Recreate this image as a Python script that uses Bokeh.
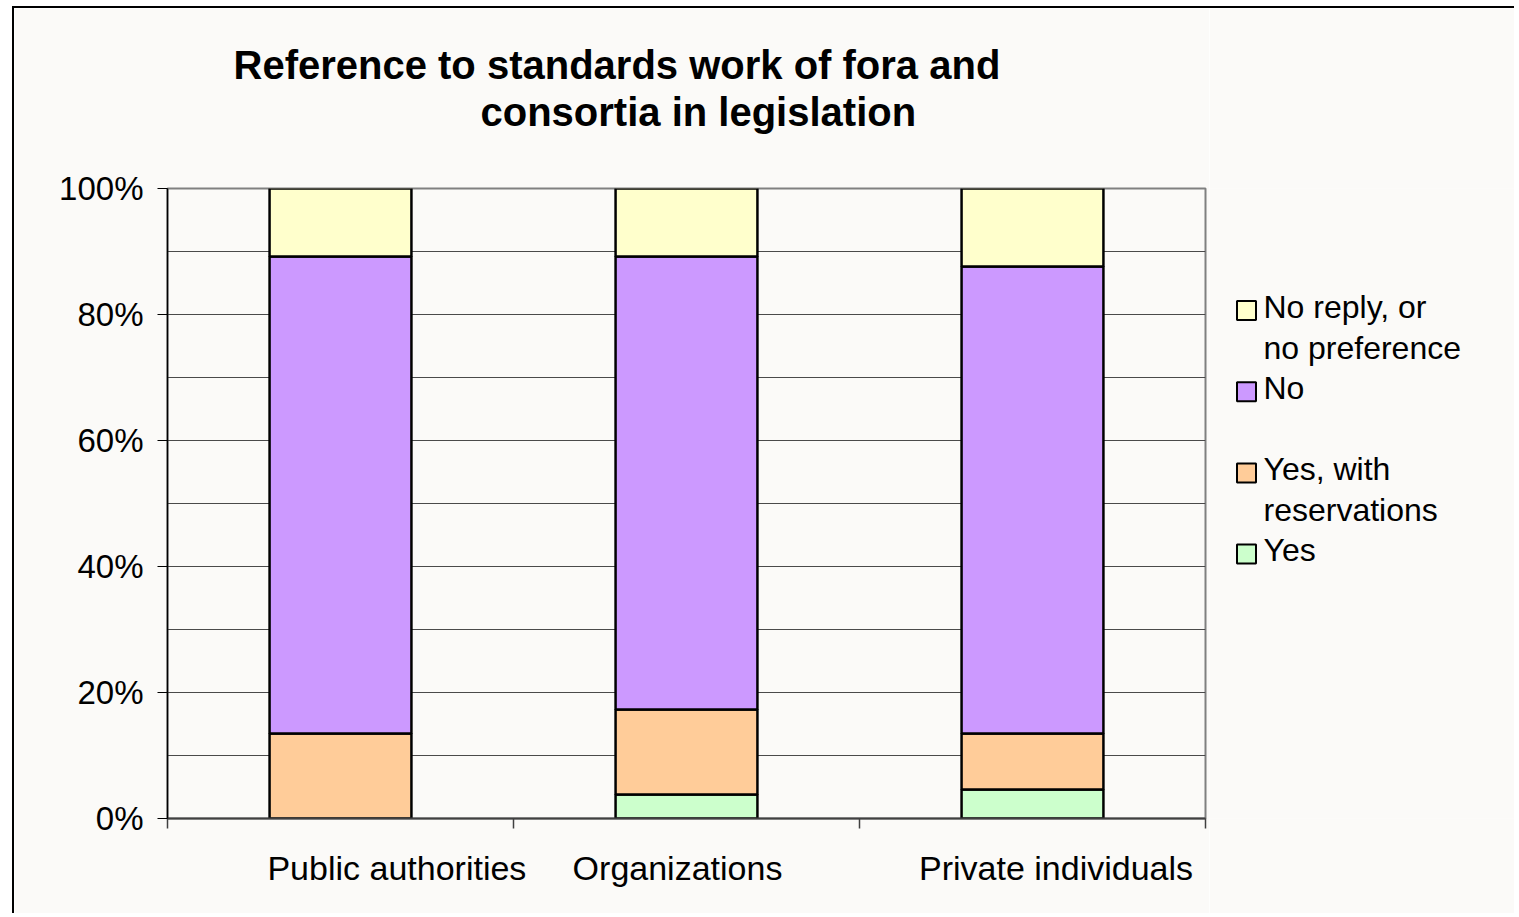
from bokeh.plotting import figure
from bokeh.layouts import row
from bokeh.models import (ColumnDataSource, Range1d, LinearAxis, FixedTicker, PrintfTickFormatter,
                          Grid, Title)
from bokeh.core.properties import value
from bokeh.embed import file_html
from bokeh.resources import INLINE

# ---- data (percent of respondents) ----
categories = ["Public authorities", "Organizations", "Private individuals"]
yes = [0.0, 3.8, 4.6]
yes_res = [13.5, 13.5, 8.9]
no = [75.7, 71.9, 74.1]
no_reply = [10.8, 10.8, 12.4]

series_keys = ["yes", "yes_res", "no", "no_reply"]
series_names = ["Yes", "Yes, with\nreservations", "No", "No reply, or\nno preference"]
colors = ["#CCFFCC", "#FFCC99", "#CC99FF", "#FFFFCC"]
y_ticks = [0, 20, 40, 60, 80, 100]
grid_ticks = [0, 10, 20, 30, 40, 50, 60, 70, 80, 90, 100]
title_lines = ["Reference to standards work of fora and", "consortia in legislation"]

# style: horizontal shift of each category label (fraction of a category width)
label_shift = [0.163, -0.026, 0.068]

FONT = "Liberation Sans"
BG = "#FBFAF8"
H = 905
TOP, FRAME_H = 180, 630
BOTTOM = H - TOP - FRAME_H

n = len(categories)
centers = [i + 0.5 for i in range(n)]
edges = [i for i in range(n + 1)]
label_pos = [c + s for c, s in zip(centers, label_shift)]

source = ColumnDataSource(dict(x=centers, cat=categories, yes=yes, yes_res=yes_res,
                               no=no, no_reply=no_reply))

# ---------------- main chart ----------------
p = figure(width=1195, height=H,
           x_range=Range1d(0, n), y_range=Range1d(0, 100),
           x_axis_type=None, y_axis_type=None,
           toolbar_location=None, output_backend="svg",
           min_border_left=153, min_border_right=4, min_border_top=TOP,
           min_border_bottom=BOTTOM)
p.background_fill_color = BG
p.border_fill_color = BG
p.outline_line_color = "#808080"
p.outline_line_width = 2

# title: p.title is outermost; added titles stack outward from the frame in order
p.title.text = title_lines[0]
p.title.text_font = FONT
p.title.text_font_size = "40px"
p.title.text_font_style = "bold"
p.title.text_color = "black"
p.title.align = "left"
p.title.offset = 66
p.title.standoff = 0
p.add_layout(Title(text=" ", text_font_size="1px", standoff=49.5), "above")
p.add_layout(Title(text=title_lines[1], text_font=FONT, text_font_size="40px",
                   text_font_style="bold", text_color="black", align="left",
                   offset=313, standoff=2.6), "above")

# horizontal gridlines every 10%
grid = Grid(dimension=1, ticker=FixedTicker(ticks=grid_ticks),
            grid_line_color="#4a4a4a", grid_line_width=1)
p.add_layout(grid)

# y axis
yaxis = LinearAxis(ticker=FixedTicker(ticks=y_ticks), formatter=PrintfTickFormatter(format="%d%%"),
                   axis_line_color="black", axis_line_width=1.5,
                   major_tick_out=10, major_tick_in=0, major_tick_line_color="black",
                   minor_tick_line_color=None, major_label_standoff=14,
                   major_label_text_font=FONT, major_label_text_font_size="33px",
                   major_label_text_color="black")
p.add_layout(yaxis, "left")

# x axis: category labels, tick marks at category boundaries
xaxis = LinearAxis(ticker=FixedTicker(ticks=label_pos, minor_ticks=edges),
                   major_label_overrides={lp: name for lp, name in zip(label_pos, categories)},
                   axis_line_color="#404040", axis_line_width=2,
                   major_tick_out=10, major_tick_in=0, major_tick_line_alpha=0,
                   minor_tick_out=10, minor_tick_in=0, minor_tick_line_color="#404040",
                   minor_tick_line_width=1.5,
                   major_label_standoff=20,
                   major_label_text_font=FONT, major_label_text_font_size="34px",
                   major_label_text_color="black")
p.add_layout(xaxis, "below")

p.vbar_stack(series_keys, x="x", width=0.41, source=source, color=colors,
             line_color="black", line_width=2.5)

# ---------------- legend panel (frame aligned with the main chart's frame) ----------------
LW = 305
lg = figure(width=LW, height=H, x_range=Range1d(0, LW), y_range=Range1d(TOP + FRAME_H, TOP),
            x_axis_type=None, y_axis_type=None, title=None,
            toolbar_location=None, output_backend="svg",
            min_border_left=0, min_border_right=0, min_border_top=TOP, min_border_bottom=BOTTOM)
lg.background_fill_color = BG
lg.border_fill_color = BG
lg.outline_line_color = None

first_center = 302.0   # centre of the first legend square (px from canvas top)
pitch = 81.2           # distance between legend entries
line_gap = 41.5        # distance between wrapped label lines
sq = 19.0
order = [3, 2, 1, 0]   # top entry = last stacked series
sq_l, sq_r, sq_t, sq_b, sq_c = [], [], [], [], []
tx, ty, tt = [], [], []
for k, idx in enumerate(order):
    c = first_center + k * pitch
    sq_l.append(27.5)
    sq_r.append(27.5 + sq)
    sq_t.append(c - sq / 2)
    sq_b.append(c + sq / 2)
    sq_c.append(colors[idx])
    for j, line in enumerate(series_names[idx].split("\n")):
        tx.append(54.0)
        ty.append(c - 4 + j * line_gap)
        tt.append(line)

lg.quad(left=sq_l, right=sq_r, top=sq_t, bottom=sq_b, fill_color=sq_c,
        line_color="black", line_width=2)
lg.text(x=tx, y=ty, text=tt, text_font=value(FONT), text_font_size="32px",
        text_color="black", text_baseline="alphabetic", text_align="left")

layout = row(p, lg)
layout.styles = {"margin-left": "12px", "margin-top": "6px",
                 "border-top": "2px solid black", "border-left": "2px solid black"}

open("out.html", "w").write(file_html(layout, INLINE))
